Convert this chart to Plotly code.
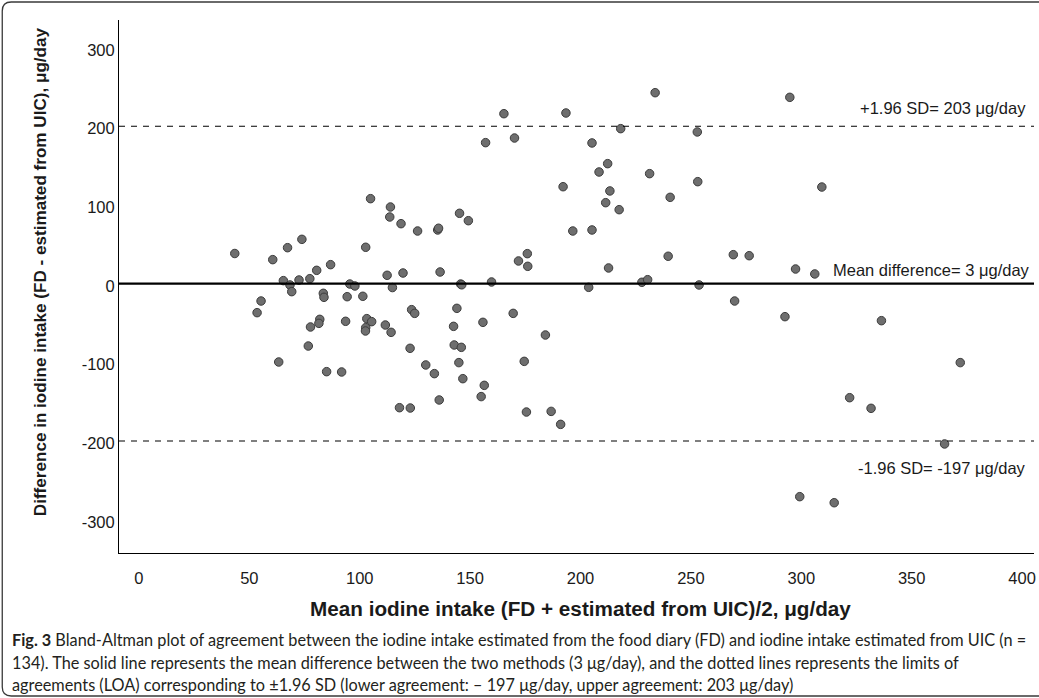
import plotly.graph_objects as go

# Mean of the two methods (x) and difference FD - UIC (y), µg/day
mean_intake = [43.4, 60.6, 67.3, 73.8, 104.9, 113.9, 113.6, 118.7, 126.2, 102.7,
               112.4, 119.6, 65.4, 68.4, 72.5, 77.4, 80.5, 86.8, 95.5, 97.8,
               114.8, 69.2, 55.3, 53.5, 63.3, 76.7, 77.7, 81.9, 81.5, 83.5,
               83.8, 94.3, 101.4, 85.0, 91.8, 93.6, 103.2, 105.4, 102.7, 102.6,
               111.6, 114.2, 122.8, 123.5, 124.9, 129.9, 118.0, 122.9, 135.3, 135.7,
               145.2, 149.2, 136.4, 145.7, 146.2, 159.7, 157.0, 165.3, 170.1, 171.9,
               175.9, 176.1, 192.1, 193.4, 196.5, 205.2, 205.2, 203.7, 208.4, 212.3,
               213.3, 211.4, 217.5, 212.7, 218.2, 227.8, 230.4, 231.3, 233.8, 240.6,
               239.7, 252.9, 253.1, 253.7, 133.8, 136.0, 144.0, 142.5, 142.8, 146.0,
               144.9, 146.7, 155.8, 156.4, 155.0, 169.5, 184.1, 174.5, 175.5, 186.7,
               191.0, 294.8, 309.3, 269.2, 276.4, 297.4, 306.1, 269.8, 292.6, 336.3,
               372.0, 321.9, 331.6, 364.9, 299.3, 314.9]
difference = [41.3, 33.5, 48.7, 59.3, 111.0, 100.4, 87.7, 79.2, 69.9, 49.2,
              13.6, 16.5, 6.8, 1.3, 7.6, 9.3, 19.9, 27.1, 2.5, 0.0,
              -2.0, -7.2, -19.1, -33.9, -96.6, -76.3, -52.1, -42.4, -47.5, -9.3,
              -14.4, -13.6, -13.1, -108.9, -109.3, -44.9, -41.5, -45.3, -53.0, -57.2,
              -49.6, -58.9, -79.2, -30.1, -34.8, -100.4, -154.7, -155.1, 71.2, 73.4,
              92.4, 83.0, 17.8, 2.5, 1.5, 5.1, 182.2, 219.0, 188.1, 31.8,
              41.1, 25.0, 126.2, 219.9, 69.9, 181.8, 71.2, -1.7, 144.9, 155.5,
              120.8, 105.9, 97.0, 22.9, 200.0, 4.7, 8.0, 142.8, 245.7, 112.7,
              37.8, 195.8, 132.6, 1.3, -111.4, -144.9, -28.4, -51.3, -75.0, -78.0,
              -97.4, -117.8, -46.2, -126.3, -140.6, -34.8, -62.3, -95.8, -160.2, -159.4,
              -175.9, 239.8, 125.8, 39.8, 38.5, 21.6, 15.3, -19.1, -39.0, -44.1,
              -97.4, -142.0, -155.5, -200.8, -267.8, -275.5]

mean_diff = 3
upper_loa = 203
lower_loa = -197

x_ticks = [0, 50, 100, 150, 200, 250, 300, 350, 400]
y_ticks = [-300, -200, -100, 0, 100, 200, 300]
x_ticktext = [str(v) for v in x_ticks]
y_ticktext = [str(v) for v in y_ticks]   # plain hyphen-minus as in the original

W, H = 1039, 698
L, R, T, B = 119, 1036, 20, 553   # plot area in pixels


def px(xp):
    return (xp - L) / (R - L)


def py(yp):
    return (B - yp) / (B - T)


FONT = "Liberation Sans"
TXT = "#1a1a1a"
LBL = 16.5

fig = go.Figure()
fig.add_trace(go.Scatter(
    x=mean_intake, y=difference, mode="markers",
    marker=dict(size=8.5, color="#6e6e6e", line=dict(color="#3c3c3c", width=1)),
    hoverinfo="skip", showlegend=False))

shapes = [
    dict(type="line", xref="paper", yref="y", x0=0, x1=1, y0=mean_diff, y1=mean_diff,
         line=dict(color="black", width=2.2)),
    dict(type="line", xref="paper", yref="y", x0=0, x1=1, y0=upper_loa, y1=upper_loa,
         line=dict(color="black", width=1.1, dash="6px,6px")),
    dict(type="line", xref="paper", yref="y", x0=0, x1=1, y0=lower_loa, y1=lower_loa,
         line=dict(color="black", width=1.1, dash="6px,6px")),
]
# outer rounded frame (open on the right edge)
x_r, x_l, y_t, y_b, r = 1045, 2, 2, 696, 9
path = (f"M {px(x_r)},{py(y_t)} L {px(x_l + r)},{py(y_t)} "
        f"Q {px(x_l)},{py(y_t)} {px(x_l)},{py(y_t + r)} "
        f"L {px(x_l)},{py(y_b - r)} "
        f"Q {px(x_l)},{py(y_b)} {px(x_l + r)},{py(y_b)} "
        f"L {px(x_r)},{py(y_b)}")
shapes.append(dict(type="path", xref="paper", yref="paper", path=path,
                   line=dict(color="#3a3a3a", width=1.3)))

annotations = [
    dict(text=f"+1.96 SD= {upper_loa} μg/day", xref="paper", yref="y",
         x=px(1030), y=upper_loa, xanchor="right", yanchor="middle", yshift=18,
         showarrow=False, font=dict(family=FONT, size=LBL, color=TXT)),
    dict(text=f"Mean difference= {mean_diff} μg/day", xref="paper", yref="y",
         x=px(1034), y=mean_diff, xanchor="right", yanchor="middle", yshift=14,
         showarrow=False, font=dict(family=FONT, size=LBL, color=TXT)),
    dict(text=f"-1.96 SD= {lower_loa} μg/day", xref="paper", yref="y",
         x=px(1030), y=lower_loa, xanchor="right", yanchor="middle", yshift=-27,
         showarrow=False, font=dict(family=FONT, size=LBL, color=TXT)),
    dict(text="<b>Difference in iodine intake (FD - estimated from UIC), μg/day</b>",
         xref="paper", yref="paper", x=px(40), y=py(272), textangle=-90,
         xanchor="center", yanchor="middle", showarrow=False,
         font=dict(family=FONT, size=17.1, color=TXT)),
    dict(text="<b>Mean iodine intake (FD + estimated from UIC)/2, μg/day</b>",
         xref="paper", yref="paper", x=px(582), y=py(608),
         xanchor="center", yanchor="middle", showarrow=False,
         font=dict(family=FONT, size=20.7, color=TXT)),
]

CAP_FONT = "Lato"
caption = [
    "<b>Fig. 3</b> Bland-Altman plot of agreement between the iodine intake estimated from the food diary (FD) and iodine intake estimated from UIC (n =",
    "134). The solid line represents the mean difference between the two methods (3 μg/day), and the dotted lines represents the limits of",
    "agreements (LOA) corresponding to ±1.96 SD (lower agreement: – 197 μg/day, upper agreement: 203 μg/day)",
]
for i, line in enumerate(caption):
    annotations.append(dict(text=line, xref="paper", yref="paper",
                            x=px(10), y=py(639 + 23 * i), xanchor="left", yanchor="middle",
                            showarrow=False, align="left",
                            font=dict(family=CAP_FONT, size=16.3, color="#231f20")))

fig.update_layout(
    width=W, height=H,
    margin=dict(l=L, r=W - R, t=T, b=H - B, pad=0),
    paper_bgcolor="white", plot_bgcolor="white",
    shapes=shapes, annotations=annotations,
    font=dict(family=FONT, size=LBL, color=TXT),
    xaxis=dict(range=[-9.04, 405.4], tickvals=x_ticks, ticktext=x_ticktext,
               showgrid=False, zeroline=False,
               showline=True, linecolor="black", linewidth=1, ticks="",
               ticklabelstandoff=10, tickfont=dict(family=FONT, size=LBL, color=TXT)),
    yaxis=dict(range=[-339.4, 338.1], tickvals=y_ticks, ticktext=y_ticktext,
               showgrid=False, zeroline=False,
               showline=True, linecolor="black", linewidth=1, ticks="",
               ticklabelstandoff=0, tickfont=dict(family=FONT, size=LBL, color=TXT)),
)

fig.write_html("out.html")
